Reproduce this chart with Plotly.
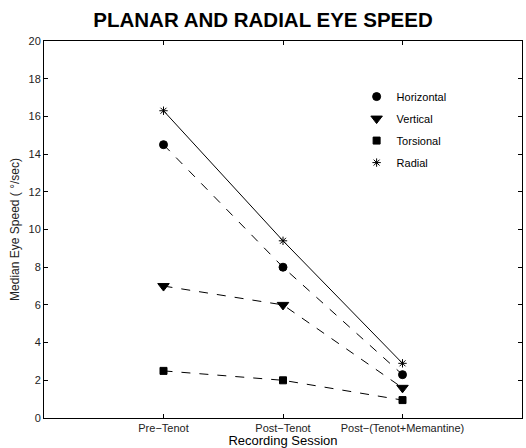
import plotly.graph_objects as go

sessions = ["Pre\u2212Tenot", "Post\u2212Tenot", "Post\u2212(Tenot+Memantine)"]
session_pos = [1, 2, 3]
horizontal = [14.5, 8.0, 2.3]
vertical = [7.0, 6.0, 1.6]
torsional = [2.5, 2.0, 0.95]
radial = [16.3, 9.4, 2.9]

series = [
    ("Horizontal", horizontal, "circle", 8, "dash"),
    ("Vertical", vertical, "triangle-down", 10, "dash"),
    ("Torsional", torsional, "square", 7, "dash"),
    ("Radial", radial, "asterisk-open", 7, "solid"),
]

FONT = "Liberation Sans, Arial, sans-serif"

fig = go.Figure()
for name, vals, sym, size, dash in series:
    fig.add_trace(go.Scatter(
        x=session_pos, y=vals, mode="lines+markers", showlegend=False,
        line=dict(color="black", width=1, dash=dash),
        marker=dict(symbol=sym, size=size, color="black", line=dict(color="black", width=1)),
    ))
for name, vals, sym, size, dash in series:
    fig.add_trace(go.Scatter(
        x=[None], y=[None], mode="markers", name=name, legendgroup=name,
        marker=dict(symbol=sym, size=size, color="black", line=dict(color="black", width=1)),
    ))

axis_common = dict(
    showline=True, linecolor="black", linewidth=1, mirror="ticks",
    ticks="inside", ticklen=4, tickcolor="black", showgrid=False, zeroline=False,
    tickfont=dict(family=FONT, size=11, color="#222"),
)
fig.update_xaxes(range=[0, 4], tickvals=session_pos, ticktext=sessions,
                 title=dict(text="Recording Session", standoff=3,
                            font=dict(family=FONT, size=13, color="black")),
                 **axis_common)
fig.update_yaxes(range=[0, 20], tickvals=list(range(0, 21, 2)),
                 title=dict(text="Median Eye Speed ( \u00b0/sec)", standoff=6,
                            font=dict(family=FONT, size=12, color="#222")),
                 **axis_common)

fig.update_layout(
    width=526, height=448,
    margin=dict(l=44, r=4, t=41, b=30, autoexpand=False),
    paper_bgcolor="white", plot_bgcolor="white",
    title=dict(text="<b>PLANAR AND RADIAL EYE SPEED</b>", x=0.5, xanchor="center",
               y=0.956, yanchor="middle",
               font=dict(family=FONT, size=20.5, color="black")),
    legend=dict(x=0.654, y=0.891, xanchor="left", yanchor="top", bgcolor="rgba(0,0,0,0)",
                font=dict(family=FONT, size=11, color="black"),
                tracegroupgap=3, itemwidth=30),
)

fig.write_html("out.html", post_script="document.body.style.margin='0';",
               config={"displayModeBar": False})
